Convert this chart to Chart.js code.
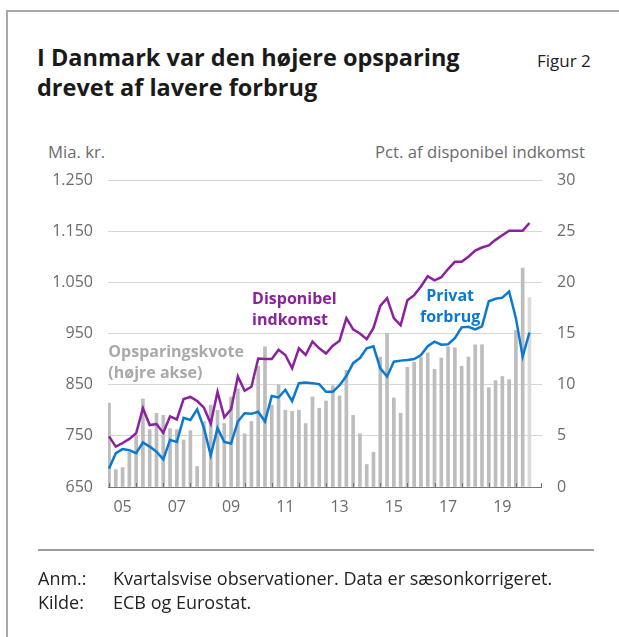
<!DOCTYPE html>
<html>
<head>
<meta charset="utf-8">
<script src="https://cdn.jsdelivr.net/npm/chart.js@4.4.1/dist/chart.umd.min.js"></script>
<style>
  body { margin: 0; width: 619px; height: 637px; background: #fff; font-family: "Open Sans", sans-serif; position: relative; overflow: hidden; }
  .frame { position: absolute; left: 6px; top: 10px; right: -10px; bottom: -10px; border-left: 2px solid #a8a8a8; border-top: 2px solid #a8a8a8; }
  .wrap { position: absolute; left: 0; top: 0; width: 619px; height: 637px; }
  .title { position: absolute; left: 37px; top: 42px; font-weight: 700; font-size: 23.5px; line-height: 30px; color: #1a1a1a; letter-spacing: 0; }
  .fig { position: absolute; left: 537px; top: 49px; font-size: 17px; color: #222; }
  .unit { position: absolute; top: 140px; font-size: 16.7px; color: #6b6b6b; white-space: nowrap; }
  .sep { position: absolute; left: 38px; width: 556px; top: 549px; border-top: 2px solid #9c9c9c; }
  .note { position: absolute; left: 38px; font-size: 18px; line-height: 24px; color: #222; white-space: nowrap; }
  .note span { position: absolute; left: 75px; }
</style>
</head>
<body>
<div class="frame"></div>
<div class="title">I Danmark var den højere opsparing<br>drevet af lavere forbrug</div>
<div class="fig">Figur 2</div>
<div class="unit" style="left:48px">Mia. kr.</div>
<div class="unit" style="right:34px">Pct. af disponibel indkomst</div>
<div class="wrap"><canvas id="chart" width="619" height="637"></canvas></div>
<div class="sep"></div>
<div class="note" style="top:566px">Anm.:<span>Kvartalsvise observationer. Data er sæsonkorrigeret.</span></div>
<div class="note" style="top:590px">Kilde:<span>ECB og Eurostat.</span></div>

<script>
// Quarters, 2005K1 - 2020K3
const quarters = [
    '2005K1', '2005K2', '2005K3', '2005K4', '2006K1', '2006K2', '2006K3', '2006K4',
    '2007K1', '2007K2', '2007K3', '2007K4', '2008K1', '2008K2', '2008K3', '2008K4',
    '2009K1', '2009K2', '2009K3', '2009K4', '2010K1', '2010K2', '2010K3', '2010K4',
    '2011K1', '2011K2', '2011K3', '2011K4', '2012K1', '2012K2', '2012K3', '2012K4',
    '2013K1', '2013K2', '2013K3', '2013K4', '2014K1', '2014K2', '2014K3', '2014K4',
    '2015K1', '2015K2', '2015K3', '2015K4', '2016K1', '2016K2', '2016K3', '2016K4',
    '2017K1', '2017K2', '2017K3', '2017K4', '2018K1', '2018K2', '2018K3', '2018K4',
    '2019K1', '2019K2', '2019K3', '2019K4', '2020K1', '2020K2', '2020K3'
]

// Disponibel indkomst, mia. kr.
const disponibel = [
    749, 729, 736, 744, 755, 804, 771, 773, 756, 788,
    782, 822, 826, 818, 805, 774, 836, 786, 802, 866,
    838, 846, 901, 900, 900, 918, 908, 882, 921, 908,
    934, 921, 911, 926, 936, 980, 958, 950, 939, 961,
    1004, 1019, 980, 966, 1015, 1025, 1042, 1062, 1054, 1060,
    1076, 1090, 1090, 1100, 1112, 1118, 1122, 1133, 1142, 1151,
    1151, 1151, 1166
]

// Privat forbrug, mia. kr.
const forbrug = [
    686, 716, 724, 722, 716, 737, 729, 719, 704, 742,
    738, 785, 781, 802, 765, 712, 765, 738, 735, 778,
    794, 793, 797, 778, 828, 825, 840, 818, 853, 854,
    853, 851, 836, 836, 849, 867, 892, 902, 921, 925,
    882, 866, 895, 897, 898, 900, 908, 925, 934, 928,
    929, 941, 962, 963, 958, 964, 1013, 1018, 1020, 1032,
    980, 905, 952
]

// Opsparingskvote, pct. af disponibel indkomst (højre akse)
const opsparing = [
    8.2, 1.7, 1.9, 3.4, 5.0, 8.6, 5.6, 7.2, 7.0, 5.7,
    5.6, 4.6, 5.5, 2.0, 6.4, 8.0, 7.5, 6.2, 8.8, 9.6,
    5.2, 6.4, 11.8, 13.7, 8.0, 10.0, 7.5, 7.4, 7.5, 6.2,
    8.8, 7.7, 8.4, 9.9, 8.9, 11.4, 7.0, 5.2, 2.2, 3.4,
    12.7, 15.0, 8.7, 7.2, 11.7, 12.2, 12.7, 13.1, 11.5, 12.6,
    13.7, 13.6, 11.8, 12.7, 13.9, 13.9, 9.7, 10.4, 10.8, 10.5,
    15.3, 21.4, 18.5
]

// Axis ticks
const xTickLabels = ['05', '07', '09', '11', '13', '15', '17', '19']
const leftTicks = [650, 750, 850, 950, 1050, 1150, 1250]
const rightTicks = [0, 5, 10, 15, 20, 25, 30]


const purple = '#8c219f'
const blue = '#0a79d0'
const grey = '#bdbdbd'

const toPoints = (values) => values.map((v, i) => ({ x: i, y: v }))

// Labels written inside the plot, placed in data coordinates
const seriesLabels = [
    { lines: ['Opsparingskvote', '(højre akse)'], x: -0.1, y: 913, color: '#a9a9a9', align: 'left' },
    { lines: ['Disponibel', 'indkomst'], x: 21.1, y: 1017, color: purple, align: 'left' },
    { lines: ['Privat', 'forbrug'], x: 50.3, y: 1023, color: blue, align: 'center' },
]

const labelPlugin = {
    id: 'seriesLabels',
    afterDatasetsDraw(chart) {
        const { ctx, scales } = chart
        ctx.save()
        ctx.font = 'bold 16px "Open Sans"'
        ctx.textBaseline = 'middle'
        for (const l of seriesLabels) {
            ctx.fillStyle = l.color
            ctx.textAlign = l.align
            const px = scales.x.getPixelForValue(l.x)
            const py = scales.y.getPixelForValue(l.y)
            l.lines.forEach((t, k) => ctx.fillText(t, px, py + k * 21))
        }
        ctx.restore()
    }
}

// year tick marks point up into the plot
const yearTicks = {
    id: 'yearTicks',
    afterDatasetsDraw(chart) {
        const { ctx, scales: { x }, chartArea } = chart
        ctx.save()
        ctx.strokeStyle = '#707070'
        ctx.lineWidth = 1
        ctx.beginPath()
        for (let v = 0; v < quarters.length; v += 4) {
            const px = Math.round(x.getPixelForValue(v)) + 0.5
            ctx.moveTo(px, chartArea.bottom)
            ctx.lineTo(px, chartArea.bottom - 4)
        }
        ctx.moveTo(chartArea.right - 0.5, chartArea.bottom)
        ctx.lineTo(chartArea.right - 0.5, chartArea.bottom - 4)
        ctx.stroke()
        ctx.restore()
    }
}

Chart.defaults.font.family = '"Open Sans", sans-serif'
Chart.defaults.color = '#6b6b6b'

const tickFont = { size: 16 }

new Chart(document.getElementById('chart'), {
    data: {
        datasets: [
            {
                type: 'line',
                label: 'Disponibel indkomst',
                data: toPoints(disponibel),
                borderColor: purple,
                borderWidth: 2.5,
                pointRadius: 0,
                tension: 0,
                yAxisID: 'y',
                order: 1
            },
            {
                type: 'line',
                label: 'Privat forbrug',
                data: toPoints(forbrug),
                borderColor: blue,
                borderWidth: 2.5,
                pointRadius: 0,
                tension: 0,
                yAxisID: 'y',
                order: 2
            },
            {
                type: 'bar',
                label: 'Opsparingskvote',
                data: toPoints(opsparing),
                backgroundColor: opsparing.map((v, i) => i === opsparing.length - 1 ? '#dadada' : grey),
                barThickness: 3,
                yAxisID: 'y1',
                order: 3
            }
        ]
    },
    options: {
        responsive: false,
        animation: false,
        layout: { padding: { left: 48, right: 37, top: 180, bottom: 110 } },
        plugins: { legend: { display: false }, tooltip: { enabled: false } },
        scales: {
            x: {
                type: 'linear',
                offset: false,
                min: -0.15,
                max: 63.85,
                afterFit: s => { s.height = 40 },
                afterBuildTicks: s => {
                    s.ticks = xTickLabels.map((t, k) => ({ value: 2 + k * 8 }))
                },
                ticks: {
                    autoSkip: false,
                    maxRotation: 0,
                    padding: 11,
                    font: tickFont,
                    callback: v => xTickLabels[(v - 2) / 8]
                },
                grid: { offset: false, drawOnChartArea: false, drawTicks: false },
                border: { display: false }
            },
            y: {
                position: 'left',
                min: 650,
                max: 1250,
                afterFit: s => { s.width = 60 },
                afterBuildTicks: s => { s.ticks = leftTicks.map(v => ({ value: v })) },
                ticks: {
                    padding: 15,
                    font: tickFont,
                    callback: v => v.toLocaleString('da-DK')
                },
                grid: {
                    drawTicks: false,
                    color: c => c.tick && c.tick.value === 650 ? '#767676' : '#d6d6d6',
                    lineWidth: 1
                },
                border: { display: false }
            },
            y1: {
                position: 'right',
                min: 0,
                max: 30,
                afterFit: s => { s.width = 40 },
                afterBuildTicks: s => { s.ticks = rightTicks.map(v => ({ value: v })) },
                ticks: { padding: 15, font: tickFont },
                grid: { drawOnChartArea: false, drawTicks: false },
                border: { display: false }
            }
        }
    },
    plugins: [yearTicks, labelPlugin]
})
</script>
</body>
</html>
